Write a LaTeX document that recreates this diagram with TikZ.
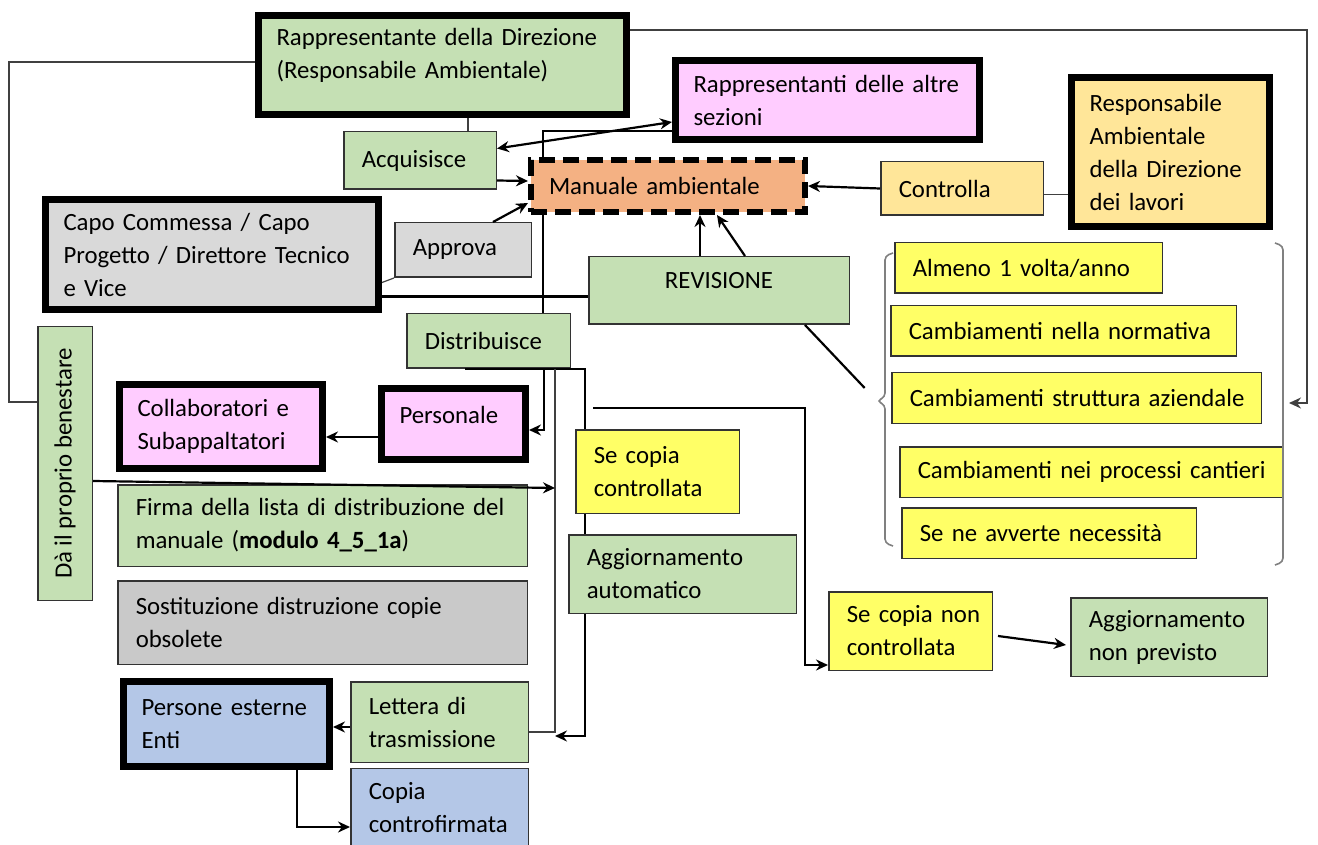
\documentclass[tikz,border=0pt]{standalone}
\usepackage{fontspec}
\setmainfont{Carlito}
\usepackage{xcolor}
\definecolor{leaf}{HTML}{C5E0B4}
\definecolor{rose}{HTML}{FFCCFF}
\definecolor{sand}{HTML}{FFE699}
\definecolor{salmon}{HTML}{F4B183}
\definecolor{ash}{HTML}{D9D9D9}
\definecolor{stone}{HTML}{C9C9C9}
\definecolor{lemon}{HTML}{FFFF66}
\definecolor{sky}{HTML}{B4C7E7}
\usepackage{tikz}
\usetikzlibrary{arrows.meta,backgrounds}
\hyphenpenalty=10000
\exhyphenpenalty=10000
\tikzset{
  >=Stealth,
  font=\fontsize{12.4}{16.5}\selectfont,
  box/.style={draw=black!80,line width=0.75pt,align=left,inner xsep=9pt,inner ysep=2pt},
  heavy/.style={draw=black,line width=3.5pt},
  dashbox/.style={draw=black,line width=3pt,dash pattern=on 8pt off 4pt},
  wh/.style n args={3}{minimum width=#1,minimum height=#2,text width=#3},
  grn/.style={box,fill=leaf},
  pnk/.style={box,fill=rose},
  org/.style={box,fill=sand},
  sal/.style={box,fill=salmon},
  gry/.style={box,fill=ash},
  gry2/.style={box,fill=stone},
  ylw/.style={box,fill=lemon},
  blu/.style={box,fill=sky},
  flow/.style={-{Stealth[length=6pt,width=5.5pt]},line width=1.1pt},
  twoway/.style={{Stealth[length=6pt,width=5.5pt]}-{Stealth[length=6pt,width=5.5pt]},line width=1.1pt},
  wire/.style={line width=1.1pt},
  fine/.style={line width=0.6pt,draw=black!75},
  brk/.style={draw=black!50,line width=0.8pt,rounded corners=2pt},
}

\begin{document}
\begin{tikzpicture}[x=0.5pt,y=-0.5pt]
  \useasboundingbox (0,0) rectangle (1318,845);
  \node[grn,heavy,wh={184pt}{49.5pt}{166pt},text depth=28pt] (rd) at (442.5,65) {Rappresentante della Direzione\\(Responsabile Ambientale)};
  \node[pnk,heavy,wh={152pt}{39.5pt}{134pt}] (ra) at (827.5,100) {Rappresentanti delle altre\\sezioni};
  \node[org,heavy,wh={99pt}{74.5pt}{81pt}] (rdl) at (1170.5,152) {Responsabile\\Ambientale\\della Direzione\\dei lavori};
  \node[grn,wh={76.25pt}{28.75pt}{58.25pt}] (acq) at (420,160.5) {Acquisisce};
  \node[sal,dashbox,wh={137pt}{26pt}{119pt}] (man) at (668,186) {Manuale ambientale};
  \node[org,wh={81.25pt}{26.75pt}{63.25pt}] (ctl) at (962,188.5) {Controlla};
  \node[gry,heavy,wh={166.5pt}{55pt}{148.5pt}] (capo) at (212,254.5) {Capo Commessa / Capo\\Progetto / Direttore Tecnico\\e Vice};
  \node[gry,wh={68.25pt}{27.25pt}{50.25pt}] (app) at (463,250) {Approva};
  \node[grn,minimum width=130.25pt,minimum height=33.75pt,text depth=10.5pt] (rev) at (719,290.5) {REVISIONE};
  \node[grn,wh={81.75pt}{27.25pt}{63.75pt}] (dis) at (488.5,341) {Distribuisce};
  \node[grn,rotate=90,minimum width=136.75pt,minimum height=27.25pt] (ben) at (65,463.5) {Dà il proprio benestare};
  \node[pnk,heavy,wh={101.5pt}{42pt}{83.5pt}] (col) at (221,426.5) {Collaboratori e\\Subappaltatori};
  \node[pnk,heavy,wh={72pt}{35.5pt}{54pt},text depth=9pt] (pers) at (453.5,424) {Personale};
  \node[grn,wh={204.75pt}{40.75pt}{186.75pt}] (firma) at (322.5,525.5) {Firma della lista di distribuzione del\\manuale (\textbf{modulo 4\_5\_1a})};
  \node[gry2,wh={204.75pt}{41.75pt}{186.75pt}] (sost) at (322.5,622.5) {Sostituzione distruzione copie\\obsolete};
  \node[blu,heavy,wh={103pt}{42.5pt}{85pt}] (est) at (226.5,724) {Persone esterne\\Enti};
  \node[grn,wh={88.75pt}{40.25pt}{70.75pt}] (let) at (439.5,722) {Lettera di\\trasmissione};
  \node[blu,wh={88.75pt}{39.25pt}{70.75pt}] (cfir) at (439.5,807.5) {Copia\\controfirmata};
  \node[ylw,wh={81.75pt}{41.75pt}{63.75pt}] (scc) at (657.5,471.5) {Se copia\\controllata};
  \node[grn,wh={113.75pt}{39.25pt}{95.75pt}] (aga) at (682.5,574) {Aggiornamento\\automatico};
  \node[ylw,wh={81.75pt}{39.25pt}{63.75pt}] (sncc) at (910.5,631) {Se~copia~non\\controllata};
  \node[grn,wh={98.25pt}{39.25pt}{80.25pt}] (agn) at (1169,637) {Aggiornamento\\non previsto};
  \node[ylw,wh={133.75pt}{25.25pt}{115.75pt}] (c1) at (1028.5,268) {Almeno 1 volta/anno};
  \node[ylw,wh={172.75pt}{25.25pt}{154.75pt}] (c2) at (1063.5,331) {Cambiamenti nella normativa};
  \node[ylw,wh={184.75pt}{25.25pt}{166.75pt}] (c3) at (1076.5,398) {Cambiamenti~struttura~aziendale};
  \node[ylw,wh={191.75pt}{25.25pt}{173.75pt}] (c4) at (1091.5,472) {Cambiamenti~nei~processi~cantieri};
  \node[ylw,wh={147.25pt}{25.25pt}{129.25pt}] (c5) at (1049,533) {Se ne avverte necessità};

  \coordinate (lb) at (877,401);
  \coordinate (rb) at (1289,403);
  \coordinate (rf) at (1307,403);
  \coordinate (lf) at (9,402);
  \coordinate (lt) at (555,736);
  \coordinate (bt) at (555,488);
  \coordinate (sp) at (593,408);
  \draw[brk] (893,253) -- (885,256) -- (885,397) -- (lb) -- (885,405) -- (885,543) -- (893,546);
  \draw[brk] (1275,243) -- (1283,246) -- (1283,562) -- (1275,565);

  \begin{scope}[on background layer]
    \draw[wire] ([yshift=-15.5pt]ra.west) -| ([xshift=27.25pt]dis.north);
  \end{scope}
  \draw[fine] ([xshift=24pt]acq.north) -- ([xshift=12.75pt]rd.south);
  \draw[twoway] ([yshift=6pt]acq.east) -- ([yshift=-11pt]ra.west);
  \draw[flow] ([yshift=-10pt]acq.east) -- ([yshift=2.5pt]man.west);
  \draw[flow] ([xshift=15pt]app.north) -- ([yshift=-8.5pt]man.west);
  \draw[fine] ([yshift=-14pt]capo.east) -- (app.south west);
  \draw[wire] ([yshift=-21pt]capo.east) -- ([yshift=-3pt]rev.west);
  \draw[flow] ([xshift=-9.5pt]rev.north) -- ([xshift=16pt]man.south);
  \draw[flow] ([xshift=13pt]rev.north) -- ([xshift=24.5pt]man.south);
  \draw[flow] (ctl.west) -- (man.east);
  \draw[fine] ([yshift=-3pt]ctl.east) -- ([yshift=-21.25pt]rdl.west);
  \draw[wire,shorten >=9pt] ([xshift=43pt]rev.south) -- (lb);
  \draw[fine,-{Stealth[length=6pt,width=5.5pt]}] ([yshift=17.5pt]rd.east) -| (rf) -- (rb);
  \draw[fine] ([yshift=1.5pt]rd.west) -| (lf) -- (lf -| ben.north);
  \draw[flow] ([xshift=27.75pt]dis.south) |- ([yshift=-3pt]pers.east);
  \draw[flow] ([yshift=-6.5pt]pers.west) -- ([yshift=-5.25pt]col.east);
  \draw[wire] ([xshift=-11.75pt]dis.south) -| ([xshift=-36.25pt]scc.north);
  \draw[wire] ([xshift=-36.25pt]scc.south) -- ([xshift=-48.75pt]aga.north);
  \draw[flow] ([xshift=-48.75pt]aga.south) |- (lt);
  \draw[fine] ([xshift=33.25pt]dis.south) |- ([yshift=-5pt]let.east);
  \draw[flow] ([yshift=-8.75pt]ben.south) -- (bt);
  \draw[flow] (sp) -| ([xshift=-11.5pt,yshift=-17pt]sncc.west) -- ([yshift=-17pt]sncc.west);
  \draw[flow] ([yshift=-2.5pt]let.west) -- ([yshift=-1.5pt]est.east);
  \draw[flow] ([xshift=35.25pt]est.south) |- ([yshift=-9.75pt]cfir.west);
  \draw[flow] ([xshift=2.5pt,yshift=-2.5pt]sncc.east) -- ([xshift=-2pt,yshift=-4pt]agn.west);
\end{tikzpicture}
\end{document}
